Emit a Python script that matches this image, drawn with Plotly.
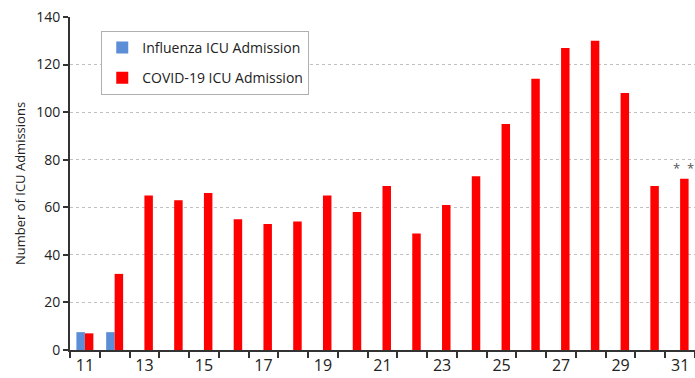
import plotly.graph_objects as go

weeks = list(range(11, 32))
influenza = [7.5, 7.5] + [None] * 19
covid = [7, 32, 65, 63, 66, 55, 53, 54, 65, 58, 69, 49, 61, 73, 95, 114, 127, 130, 108, 69, 72]
x_ticks = list(range(11, 32, 2))
y_ticks = list(range(0, 141, 20))

fig = go.Figure()
fig.add_trace(go.Bar(x=weeks, y=influenza, name="Influenza ICU Admission",
                     marker=dict(color="#5B8ED6", line=dict(width=0)), legendgroup="a"))
fig.add_trace(go.Bar(x=weeks, y=covid, name="COVID-19 ICU Admission",
                     marker=dict(color="#FF0000", line=dict(width=0)), legendgroup="b"))

fig.add_annotation(x=31, y=76.5, xref="x", yref="y", text="*  *", showarrow=False,
                   font=dict(size=13, color="#555555", family="Open Sans"), xshift=3)

fig.update_layout(
    width=695, height=378,
    margin=dict(l=70, r=0, t=17, b=28),
    paper_bgcolor="white", plot_bgcolor="white",
    barmode="group", bargap=0.43, bargroupgap=0,
    font=dict(family="Open Sans", color="#333333"),
    legend=dict(x=0.05, y=0.958, xanchor="left", yanchor="top",
                bgcolor="white", bordercolor="#b0b0b0", borderwidth=1,
                font=dict(size=14, color="#222222"), tracegroupgap=9,
                itemwidth=30),
    xaxis=dict(range=[10.5, 31.5], tickmode="array", tickvals=x_ticks,
               ticktext=[str(v) for v in x_ticks], ticks="", showgrid=False,
               showline=True, linecolor="#333333", linewidth=2,
               tickfont=dict(size=16, color="#222222", family="Open Sans"),
               minor=dict(tickmode="linear", tick0=10.5, dtick=1, ticks="outside",
                          ticklen=6, tickwidth=2, tickcolor="#333333", showgrid=False)),
    yaxis=dict(range=[0, 140], tickmode="array", tickvals=y_ticks, ticks="outside",
               ticklen=5, tickwidth=2, tickcolor="#333333",
               showline=True, linecolor="#333333", linewidth=2,
               showgrid=True, gridcolor="#c0c0c0", griddash="dot", gridwidth=1,
               zeroline=False,
               tickfont=dict(size=14, color="#222222", family="Open Sans"),
               title=dict(text="Number of ICU Admissions", standoff=8,
                          font=dict(size=13, color="#222222", family="Open Sans"))),
)

fig.write_html("out.html")
